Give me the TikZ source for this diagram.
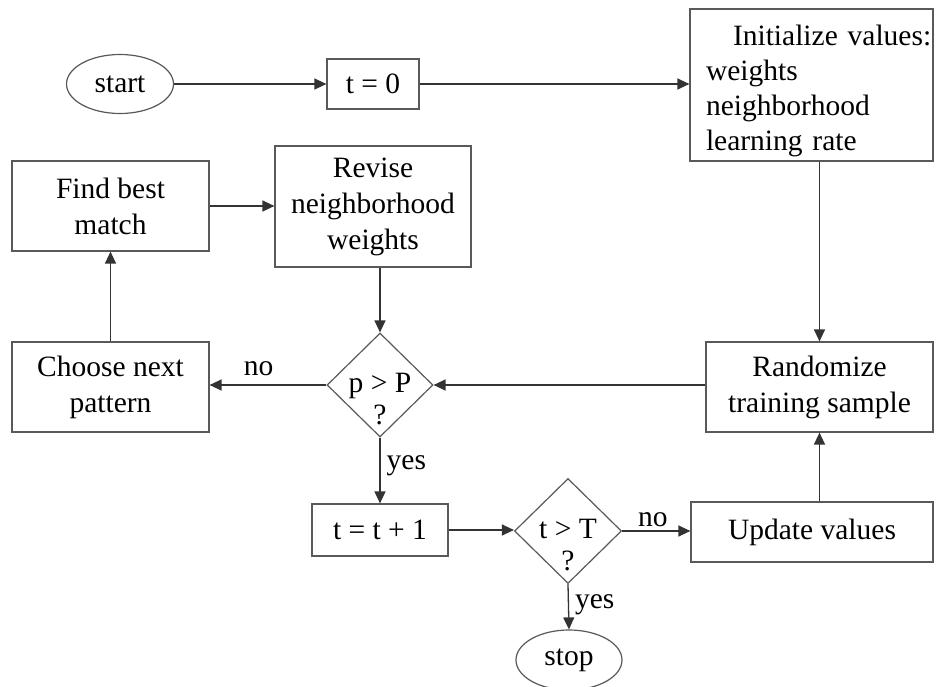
\documentclass[tikz,border=0pt]{standalone}
\usepackage{fontspec}
\setmainfont{Liberation Serif}
\usetikzlibrary{shapes.geometric,arrows.meta}

\tikzset{
  shape line/.style={draw=black!65, line width=1.2pt},
  procbox/.style={shape line, rectangle, inner sep=0pt, align=center,
    font=\fontsize{29.5}{36}\selectfont},
  terminal/.style={shape line, ellipse, inner sep=0pt,
    font=\fontsize{29.5}{36}\selectfont},
  decision/.style={shape line, diamond, inner sep=0pt},
  dectext/.style={font=\fontsize{29.5}{32}\selectfont, align=center, inner sep=0pt},
  flow/.style={draw=black!80, line width=1.3pt, -{Triangle[length=12pt, width=11pt]}},
  edgelabel/.style={font=\fontsize{29.5}{33}\selectfont, inner sep=0pt}
}

\begin{document}
\begin{tikzpicture}[x=1pt, y=-1pt]
  \useasboundingbox[fill=white] (0,0) rectangle (938,687);

  % terminals
  \node[terminal, minimum width=107pt, minimum height=59pt] (start) at (120,84) {start};
  \node[terminal, minimum width=106pt, minimum height=60pt] (stop) at (569,660) {stop};

  % process boxes
  \node[procbox, minimum width=243pt, minimum height=152pt, text width=211pt, align=left,
        font=\fontsize{29.5}{35}\selectfont]
    (init) at (811.5,85)
    {\mbox{\rule{0pt}{33pt}\hspace*{27pt}Initialize values:}\\weights\\neighborhood\\learning rate};
  \node[procbox, minimum width=92pt, minimum height=50pt] (t0) at (373,84) {t = 0};
  \node[procbox, minimum width=197pt, minimum height=90pt] (find) at (110.5,206) {Find best\\match};
  \node[procbox, minimum width=196pt, minimum height=121pt] (revise) at (373,206.5)
    {Revise\\neighborhood\\weights};
  \node[procbox, minimum width=197pt, minimum height=90pt] (choose) at (110.5,387)
    {Choose next\\pattern};
  \node[procbox, minimum width=227pt, minimum height=90pt] (rand) at (819.5,387)
    {Randomize\\training sample};
  \node[procbox, minimum width=136pt, minimum height=52pt] (tinc) at (380,530) {t = t + 1};
  \node[procbox, minimum width=242pt, minimum height=60pt] (upd) at (812,532) {Update values};

  % decisions
  \node[decision, minimum width=106pt, minimum height=104pt] (d1) at (380,385) {};
  \node[dectext] (d1t) at (380,399) {p > P\\?};
  \node[decision, minimum width=107pt, minimum height=105pt] (d2) at (568,531) {};
  \node[dectext] (d2t) at (568,545) {t > T\\?};

  % connectors
  \draw[flow] (start.east) -- (t0.west);
  \draw[flow] (t0.east) -- (init.west |- t0.east);
  \draw[flow] (init.south -| rand.north) -- (rand.north);
  \draw[flow] (rand.west |- d1.east) -- (d1.east);
  \draw[flow] (revise.south -| d1.north) -- (d1.north);
  \draw[flow] (d1.west) -- (choose.east |- d1.west)
    node[edgelabel, pos=0.58, above=9pt] (no1) {no};
  \draw[flow] (choose.north) -- (find.south);
  \draw[flow] (find.east) -- (revise.west |- find.east);
  \draw[flow] (d1.south) -- (tinc.north)
    node[edgelabel, pos=0.42, right=6pt] (yes1) {yes};
  \draw[flow] (tinc.east) -- (d2.west |- tinc.east);
  \draw[flow] (d2.east) -- (upd.west |- d2.east)
    node[edgelabel, pos=0.45, above=4pt] (no2) {no};
  \draw[flow] (d2.south) -- (stop.north)
    node[edgelabel, pos=0.45, right=6pt] (yes2) {yes};
  \draw[flow] (upd.north -| rand.south) -- (rand.south);
\end{tikzpicture}
\end{document}
